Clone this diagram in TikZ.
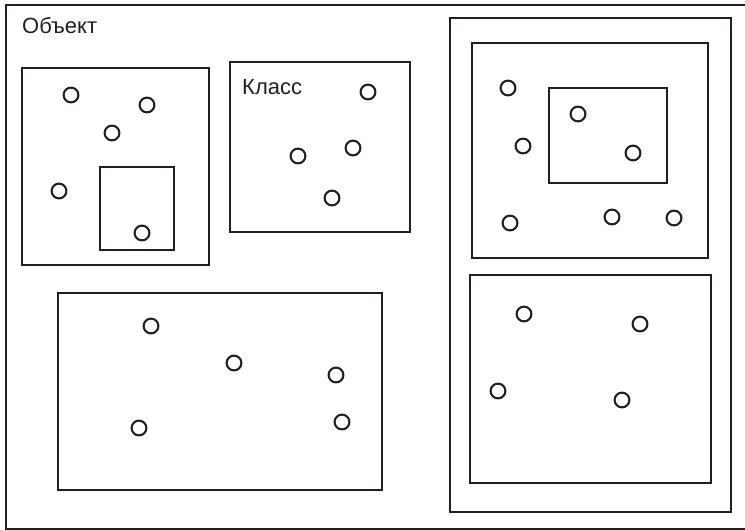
\documentclass[tikz,border=0pt]{standalone}
\usepackage{fontspec}
\setmainfont{Liberation Sans}
\definecolor{ink}{HTML}{231F20}
\begin{document}
\begin{tikzpicture}[x=1pt,y=-1pt,
  box/.style={draw=ink,line width=2.4pt},
  obj/.style={circle,draw=ink,line width=2.1pt,inner sep=0pt,minimum size=14.8pt},
  lbl/.style={anchor=base west,inner sep=0pt,text=ink,font=\fontsize{22}{25}\selectfont}]
\useasboundingbox (0,0) rectangle (745,530);
% outer object frame (right side runs off the page)
\draw[box] (6,5) rectangle (750,529);
\node[lbl] (objlabel) at (22,34) {Объект};

% upper left group with a nested box
\draw[box] (22,68) rectangle (209,265);
\draw[box] (100,167) rectangle (174,250);
\node[obj] (a1) at (71,95) {};
\node[obj] (a2) at (147,105) {};
\node[obj] (a3) at (112,133) {};
\node[obj] (a4) at (59,191) {};
\node[obj] (a5) at (142,233) {};

% class box
\draw[box] (230,62) rectangle (410,232);
\node[lbl] (clslabel) at (242,94) {Класс};
\node[obj] (b1) at (368,92) {};
\node[obj] (b2) at (353,148) {};
\node[obj] (b3) at (298,156) {};
\node[obj] (b4) at (332,198) {};

% lower left box
\draw[box] (58,293) rectangle (382,490);
\node[obj] (c1) at (151,326) {};
\node[obj] (c2) at (234,363) {};
\node[obj] (c3) at (336,375) {};
\node[obj] (c4) at (139,428) {};
\node[obj] (c5) at (342,422) {};

% right column
\draw[box] (450,18) rectangle (731,512);
\draw[box] (472,43) rectangle (708,258);
\draw[box] (549,88) rectangle (667,183);
\node[obj] (d1) at (508,88) {};
\node[obj] (d2) at (523,146) {};
\node[obj] (d3) at (510,223) {};
\node[obj] (d4) at (578,114) {};
\node[obj] (d5) at (633,153) {};
\node[obj] (d6) at (612,217) {};
\node[obj] (d7) at (674,218) {};

\draw[box] (470,275) rectangle (711,483);
\node[obj] (e1) at (524,314) {};
\node[obj] (e2) at (640,324) {};
\node[obj] (e3) at (498,391) {};
\node[obj] (e4) at (622,400) {};
\end{tikzpicture}
\end{document}
